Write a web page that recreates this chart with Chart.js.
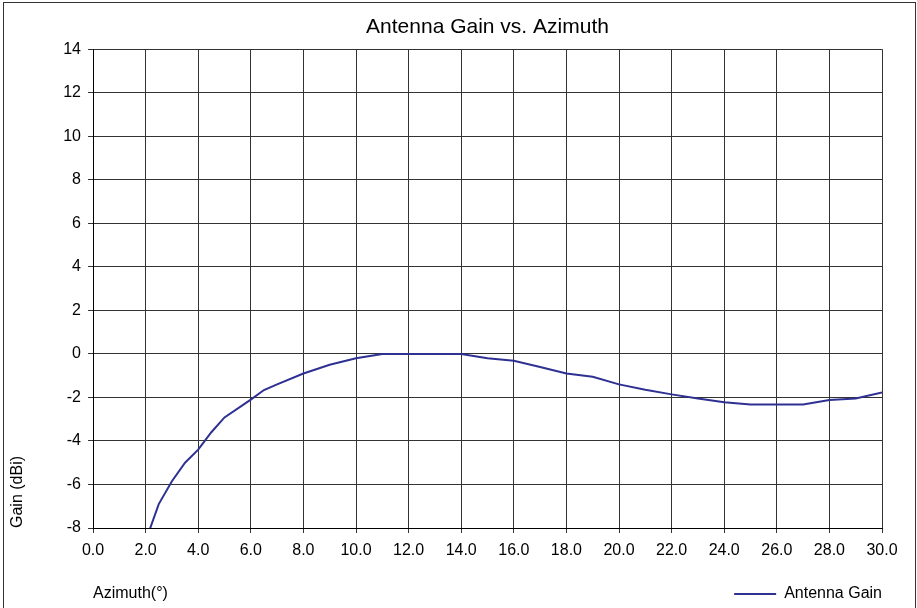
<!DOCTYPE html>
<html>
<head>
<meta charset="utf-8">
<script src="https://cdn.jsdelivr.net/npm/chart.js@4"></script>
<style>
  html, body { margin: 0; padding: 0; background: #fff; }
  canvas { display: block; }
</style>
</head>
<body>
<canvas id="gainChart" width="917" height="608"></canvas>
<script>
// azimuth in degrees, gain in dBi
const azimuth = [2.0, 2.5, 3.0, 3.5, 4.0, 4.5, 5.0, 6.0, 6.5, 7.0, 8.0, 9.0, 10.0, 11.0, 12.0, 13.0, 14.0,
                 15.0, 16.0, 17.0, 18.0, 19.0, 20.0, 21.0, 22.0, 23.0, 24.0, 25.0, 26.0, 27.0, 28.0, 29.0, 30.0];
const gain = [-8.6, -6.9, -5.85, -5.0, -4.4, -3.6, -2.92, -2.1, -1.66, -1.4, -0.9, -0.5, -0.2, 0, 0, 0, 0,
              -0.2, -0.32, -0.6, -0.9, -1.05, -1.4, -1.65, -1.86, -2.05, -2.22, -2.33, -2.33, -2.33, -2.12, -2.05, -1.77];

const xMin = 0, xMax = 30, xStep = 2;
const yMin = -8, yMax = 14, yStep = 2;

Chart.defaults.font.family = "'Liberation Sans', Arial, sans-serif";
Chart.defaults.color = '#000';

// white background + outer frame + the x axis title on the legend row
const framePlugin = {
    id: 'frame',
    beforeDraw(chart) {
        const ctx = chart.ctx;
        ctx.save();
        ctx.fillStyle = '#fff';
        ctx.fillRect(0, 0, chart.width, chart.height);
        ctx.restore();
    },
    afterDraw(chart) {
        const ctx = chart.ctx;
        ctx.save();
        ctx.strokeStyle = '#333';
        ctx.lineWidth = 1;
        ctx.strokeRect(3.5, 2.5, chart.width - 5, chart.height + 20);

        const hit = chart.legend.legendHitBoxes[0];
        const y = hit ? hit.top + hit.height / 2 : chart.height - 14;
        ctx.fillStyle = '#000';
        ctx.font = "16px 'Liberation Sans', Arial, sans-serif";
        ctx.textAlign = 'left';
        ctx.textBaseline = 'middle';
        ctx.fillText('Azimuth(°)', chart.chartArea.left, y);
        ctx.restore();
    }
};

new Chart(document.getElementById('gainChart'), {
    type: 'line',
    data: {
        datasets: [{
            label: 'Antenna Gain',
            data: azimuth.map((a, i) => ({ x: a, y: gain[i] })),
            borderColor: '#2e3192',
            backgroundColor: '#2e3192',
            borderWidth: 2,
            pointRadius: 0,
            tension: 0,
            fill: false
        }]
    },
    options: {
        responsive: false,
        animation: false,
        layout: { padding: { left: 0, right: 35, top: 0, bottom: -4 } },
        plugins: {
            title: {
                display: true,
                fullSize: false,
                text: 'Antenna Gain vs. Azimuth',
                font: { size: 21, weight: 'normal' },
                color: '#000',
                padding: { top: 15, bottom: 9 }
            },
            legend: {
                position: 'bottom',
                align: 'end',
                labels: {
                    usePointStyle: true,
                    pointStyle: 'line',
                    pointStyleWidth: 42,
                    padding: 0,
                    color: '#000',
                    font: { size: 16 }
                }
            },
            tooltip: { enabled: false }
        },
        scales: {
            x: {
                type: 'linear',
                min: xMin,
                max: xMax,
                afterFit(scale) { scale.height = 58; },
                ticks: {
                    stepSize: xStep,
                    padding: 8,
                    maxRotation: 0,
                    font: { size: 16 },
                    callback: v => v.toFixed(1)
                },
                grid: { color: '#333', lineWidth: 1, tickLength: 5 },
                border: { color: '#000', width: 1 }
            },
            y: {
                min: yMin,
                max: yMax,
                afterFit(scale) { scale.width = 93; },
                title: {
                    display: true,
                    text: 'Gain (dBi)',
                    align: 'start',
                    font: { size: 16 },
                    color: '#000',
                    padding: { top: 8, bottom: 0 }
                },
                ticks: {
                    stepSize: yStep,
                    padding: 7,
                    font: { size: 16 }
                },
                grid: { color: '#333', lineWidth: 1, tickLength: 5 },
                border: { color: '#000', width: 1 }
            }
        }
    },
    plugins: [framePlugin]
});
</script>
</body>
</html>
